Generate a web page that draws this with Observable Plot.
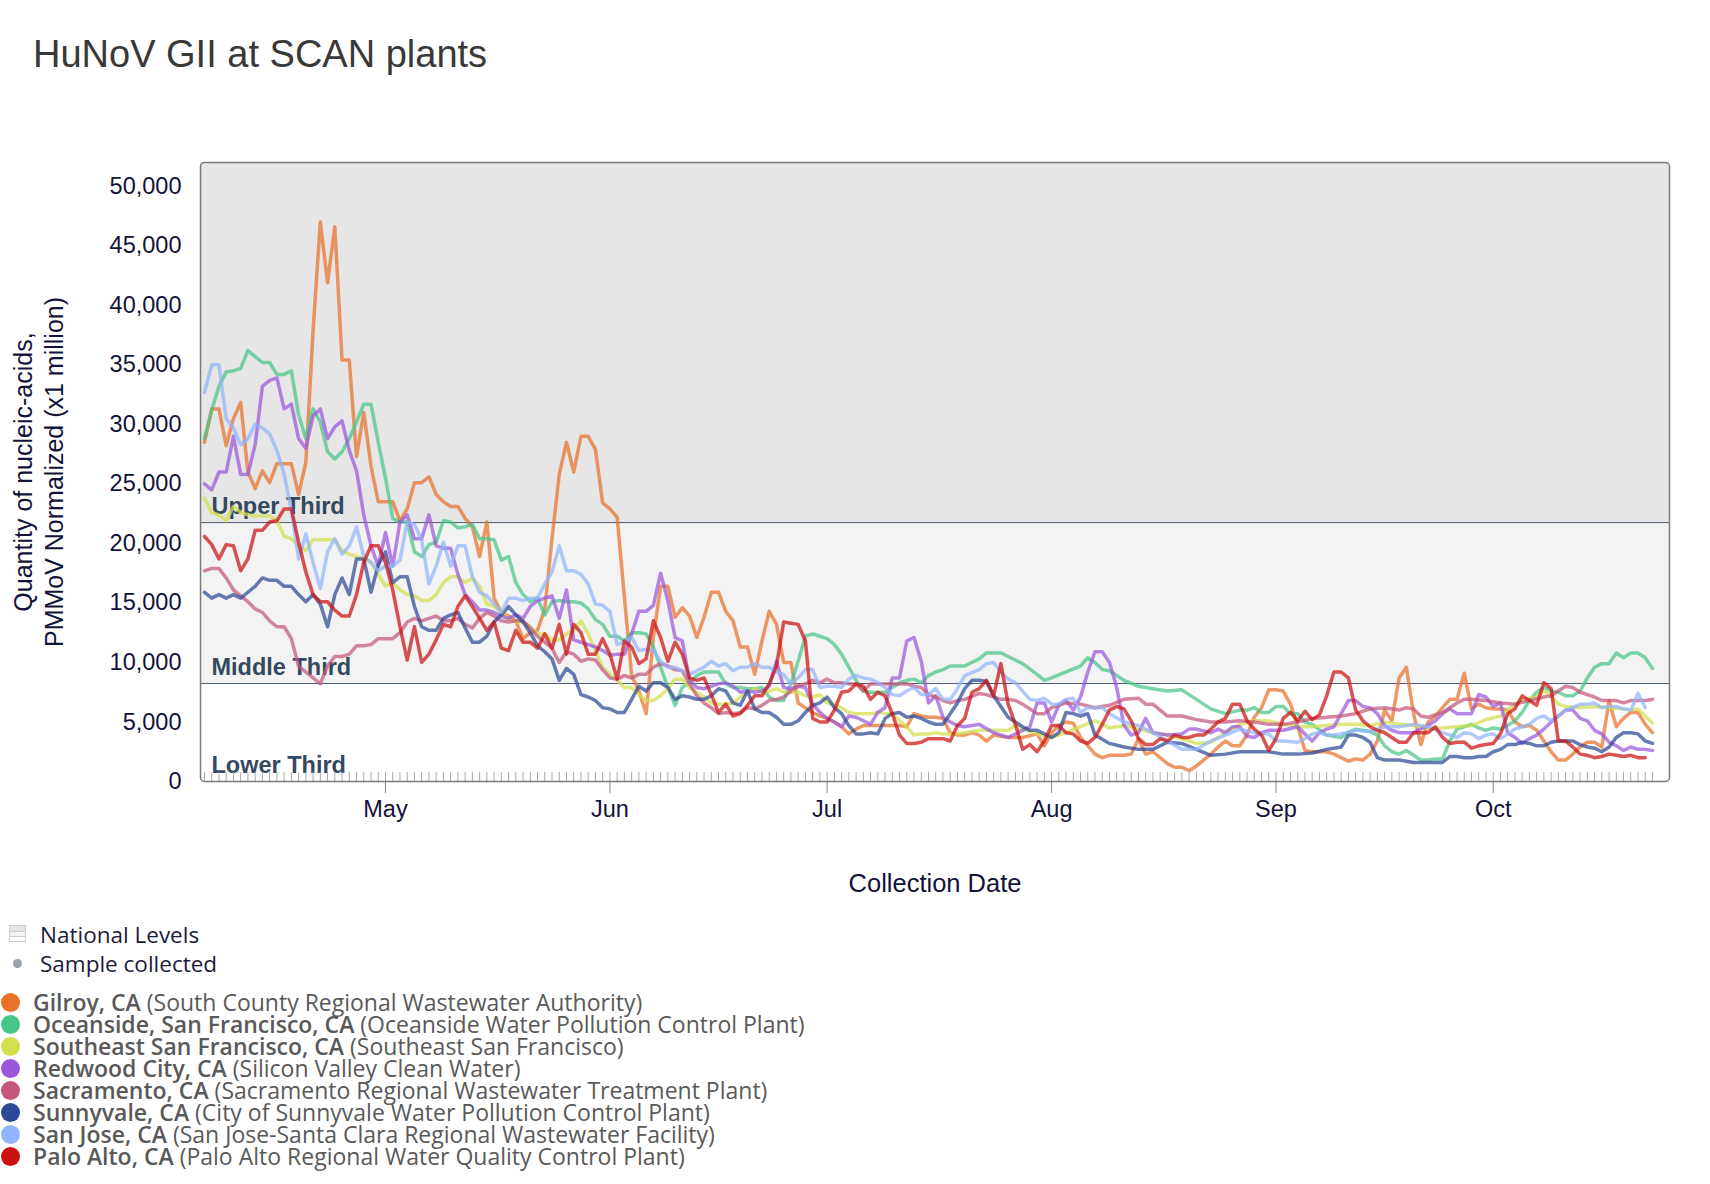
<!DOCTYPE html>
<html>
<head>
<meta charset="utf-8">
<script src="https://cdn.jsdelivr.net/npm/d3@7"></script>
<script src="https://cdn.jsdelivr.net/npm/@observablehq/plot@0.6"></script>
<style>
html,body{margin:0;padding:0;background:#fff;}
#root{position:relative;width:1710px;height:1184px;overflow:hidden;background:#fff;}
#title{position:absolute;left:33px;top:35px;font:38px/38px "Liberation Sans",Arial,sans-serif;color:#383838;white-space:nowrap;}
#chart{position:absolute;left:0;top:100px;}
.lg{position:absolute;left:0;font:22.5px/22px "Open Sans",sans-serif;white-space:nowrap;}
.row{left:33px;color:#595959;font-size:23px;}
.row b{font-weight:600;}
.dot{position:absolute;border-radius:50%;}
</style>
</head>
<body>
<div id="root">
  <div id="title"></div>
  <div id="chart"></div>
  <div id="legend"></div>
</div>
<script>
const _ = null;
const titleText = "HuNoV GII at SCAN plants";
const yTitle = "Quantity of nucleic-acids,\nPMMoV Normalized (x1 million)";
const xTitle = "Collection Date";
const startDay = "2024-04-06";
const yTicks = [0, 5000, 10000, 15000, 20000, 25000, 30000, 35000, 40000, 45000, 50000];
const yMax = 52000;
const bandLimits = [8230, 21750];
const bandLabels = ["Lower Third", "Middle Third", "Upper Third"];
const sites = ["Gilroy, CA", "Oceanside, San Francisco, CA", "Southeast San Francisco, CA", "Redwood City, CA", "Sacramento, CA", "Sunnyvale, CA", "San Jose, CA", "Palo Alto, CA"];
const plants = ["South County Regional Wastewater Authority", "Oceanside Water Pollution Control Plant", "Southeast San Francisco", "Silicon Valley Clean Water", "Sacramento Regional Wastewater Treatment Plant", "City of Sunnyvale Water Pollution Control Plant", "San Jose-Santa Clara Regional Wastewater Facility", "Palo Alto Regional Water Quality Control Plant"];
const siteColors = ["#e8722a", "#47c586", "#d3df4c", "#9a57dc", "#c4587c", "#2c4896", "#91b4fc", "#cc1010"];

// daily values from startDay (null = not read)
const gilroy = [28500,31300,31300,28200,30500,31850,26000,24600,26100,25100,
26700,26700,26700,24100,26800,37900,47000,41900,46600,35400,
35400,27300,31000,26500,23500,23500,23500,21900,22900,25100,
25100,25600,24100,23500,23100,23100,22100,21400,18900,21800,
15400,14200,13900,13500,12000,12500,12700,14500,20400,25800,
28500,26000,29000,29000,27900,23400,22900,22200,15500,8900,
7600,5700,12100,16400,16400,13800,14600,13900,12100,13800,
15900,15900,14300,13500,11300,11300,9000,11800,14300,13200,
10000,10000,6600,6200,5800,5500,5300,5000,4600,4000,
4400,4700,4700,4700,4700,4700,4700,4600,5700,5500,
5400,5400,5300,4100,3900,3900,4100,3900,3400,3900,
_,3700,_,3700,_,4000,3000,4100,4700,5000,
4900,3700,_,2300,2000,2200,_,2200,2300,3600,
2300,2500,_,1500,1200,1200,900,1300,_,2300,
2900,3400,3000,3000,3900,5400,6200,7700,7700,7600,
6500,4600,2600,2500,_,2500,2300,2000,1700,1900,
1800,2300,3400,6000,5100,8700,9600,5700,3100,5000,
5500,6200,6900,6900,9100,6100,6500,6200,6100,6100,
6000,5000,4600,4700,4300,3400,2500,1800,1800,2300,
2900,3300,3300,2900,6800,4600,5300,5800,5800,4800,
4100];
const oceanside = [28800,31200,33200,34400,34500,34700,36200,35700,35200,35200,
34200,34200,34500,30800,28800,31300,30200,27700,27100,27700,
28800,30200,31700,31700,28500,25500,22100,21800,21800,19300,
18900,19900,20100,21900,21800,21300,21400,21600,20400,20400,
20300,18600,18900,16700,15700,15100,15400,14000,15100,15200,
15100,15100,15000,14500,13600,13200,12200,12200,11800,12500,
12500,12400,11300,9600,7900,6400,7900,8300,8900,9200,
9200,9200,8200,7900,7900,7800,7800,7900,7100,6800,
6800,8200,10100,12200,12400,12200,12000,11500,10700,9600,
8500,7600,7500,7500,7500,7900,8300,8500,8600,8300,
8900,9200,9400,9700,9700,9700,_,10300,10800,10800,
10800,10500,_,9900,_,9000,8500,8700,_,9200,
_,9700,10400,10000,9400,9300,_,8500,_,8000,
_,7800,_,7600,_,7700,_,6900,_,6100,
_,5700,_,6000,6000,6200,5800,5800,6300,6300,
5700,5700,5000,4800,_,3900,_,3700,4100,4400,
_,4200,3900,3000,2500,2300,2600,2200,1800,1800,
1900,1900,3400,4400,4600,4800,4500,4300,4500,4400,
4700,5100,5800,6800,7500,7900,7600,7500,7200,7200,
7600,8700,9600,9900,9900,10800,10400,10800,10800,10400,
9500];
const southeastSF = [23800,22600,22400,21900,23100,22600,22400,22300,22300,22300,
21900,20600,20400,19800,19400,20300,20300,20300,20300,19400,
19100,18900,18700,18400,17400,16400,16700,16100,15700,15600,
15200,15200,15700,16700,17200,17200,16700,17100,16400,14900,
14700,14200,13700,13400,13400,13000,12400,12400,11900,11900,
12400,12700,13500,12400,11000,9600,9000,8500,7900,7900,
7300,6800,6800,7200,7800,8600,8600,7900,7500,7100,
6600,6500,6500,6600,7100,7500,7800,7500,7600,7800,
7500,7500,7500,7200,7100,7300,6600,6500,6200,5800,
5700,5700,5700,5800,5700,5700,5100,4600,3900,4000,
4000,4100,4000,4000,4000,4100,_,4300,_,4300,
_,4300,4700,4400,_,4000,_,3700,_,4100,
_,4600,_,5100,_,4500,_,4700,_,4400,
_,4100,_,3900,_,3600,_,3200,_,3300,
_,4100,_,4800,_,5100,_,5100,_,4800,
_,4600,_,4600,_,4700,_,4800,_,4800,
_,4700,_,5000,_,4800,_,4700,_,4500,
_,4500,_,4600,_,4700,_,5200,_,5500,
_,6500,6800,7000,7100,7600,7200,6500,6300,_,
6200,_,6300,_,6200,_,6100,6000,6100,5500,
4900];
const redwoodCity = [25000,24500,26000,26000,29000,25800,25800,28300,33200,33700,
33900,31300,31700,28800,28000,30700,31300,28800,29800,30300,
27800,26100,22400,19800,18100,20900,18100,21800,22400,20400,
20400,22400,19800,19600,19600,17400,15700,15100,14400,14400,
14200,13900,13700,14000,13700,14700,15200,15400,15600,13700,
16100,11900,11700,11500,11300,11000,10600,10700,10700,12400,
14300,14300,14800,17500,15200,12100,11800,8500,7900,7800,
8000,8200,8300,8000,7500,7600,7500,7600,8000,10100,
7900,7800,8000,7900,6500,5800,5300,5000,4600,5500,
5400,5100,4800,5800,6200,8700,8700,11800,12100,10100,
6600,7200,5400,5000,4700,4600,_,4800,_,4100,
_,3700,_,4300,4600,6600,6600,5000,6400,6800,
6000,7100,9200,10900,10900,10000,7900,4700,3900,4100,
5300,4100,_,3900,_,4000,4400,4400,_,4100,
4400,4100,4600,4600,3800,3700,4100,4300,_,4300,
_,4600,4000,3400,4100,4400,4600,5700,6800,6800,
6300,6200,5700,4700,4300,4100,4100,4100,4400,4700,
5100,5700,6100,5700,5700,5700,7300,7100,6300,6600,
4100,3700,3200,3600,3900,4400,5000,5500,6000,6000,
5300,5100,4300,4000,3300,3000,2600,2900,2700,2700,
2600];
const sacramento = [17700,17900,17900,17100,16100,15600,15100,14500,14200,13500,
13000,13000,12000,9700,9200,8700,8200,9700,10500,10500,
10700,11400,11400,11500,12000,12000,12000,12500,13400,13700,
13500,13700,13900,13500,13500,13700,13200,12900,13700,14200,
13900,13500,13400,13500,13500,12900,12200,11700,11200,10000,
10900,10700,10100,10300,10200,9400,8700,8600,8900,8700,
9000,9000,9600,9900,9700,9400,9300,8200,7200,6600,
6200,5700,5800,5700,5800,6200,6100,6400,6800,6900,
7100,7600,8000,8200,8500,8300,8600,8300,8300,8200,
8200,7600,8200,8200,8200,8200,8200,8200,8000,7900,
7300,7100,6800,6600,6800,6900,_,7400,7300,7100,
6900,6900,6800,6500,6100,5700,5700,6200,_,6600,
_,6500,_,6200,_,6400,_,6900,_,7000,
6500,6500,_,5500,_,5500,_,5200,_,5000,
_,5000,_,5100,_,5000,_,4800,_,4800,
_,5000,_,5300,_,5400,_,5500,_,5700,
_,6100,_,6200,_,6000,6200,6100,5500,5400,
_,5800,6200,6600,6900,6900,_,6800,_,6600,
_,6500,_,6800,_,7100,7200,7600,8000,7900,
7500,7300,7100,6800,6800,6800,6600,6800,6800,6800,
6900];
const sunnyvale = [15900,15400,15700,15400,15700,15400,15900,16400,17100,16900,
16900,16400,16400,15700,15100,15700,14900,13000,15700,17100,
15700,18700,18700,15900,18200,19300,16700,17200,17200,14700,
13000,12700,12700,13700,14000,14200,12900,11700,11700,12200,
13400,14000,14700,14000,13400,12500,11400,10900,10300,8500,
9500,9000,7300,7100,6800,6200,6100,5800,5800,6900,
8000,7600,8300,8300,7900,6900,7200,7100,6900,6900,
7200,7800,7600,6600,6400,7600,6100,5800,5800,5400,
4800,4800,5100,5800,6400,6600,7100,6200,5700,4700,
4000,4000,4100,4000,5300,5700,5800,5400,5500,5300,
5000,4800,4800,5700,6600,7800,8500,8500,8400,7200,
6300,5400,5000,4600,4300,4300,4000,3700,4100,5800,
5700,5500,5700,3900,_,3200,_,2900,_,2700,
_,2700,_,3300,_,3200,_,2700,_,2200,
_,2300,_,2500,_,2500,_,2500,_,2300,
_,2300,_,2400,_,2700,_,2900,3900,3900,
3700,3300,2000,1800,1800,1800,_,1600,_,1600,
_,1600,2100,2100,2000,2000,2100,2100,2500,2700,
3100,3100,3300,3200,3000,3000,3300,3400,3400,3400,
3100,2900,2800,2500,2900,3700,4100,4100,4000,3400,
3200];
const sanJose = [32700,35000,35000,30500,29700,28300,28800,30000,29700,29200,
27800,25800,22800,18700,20800,18400,16200,19300,20400,19100,
19800,21400,18900,18400,17700,18100,18100,18600,21800,21600,
20300,16600,18100,20100,18100,19800,19800,17200,15900,15600,
14900,14200,15400,15400,15200,15400,15400,16600,17600,19800,
17700,17700,17400,16600,14900,14800,14300,11500,11700,12100,
11000,11100,11000,10100,9600,9600,9300,9000,9300,9600,
10100,9700,9900,9300,9600,9600,9900,9600,9600,9200,
9000,8200,8700,9400,9400,7900,8000,8000,7900,8600,
8900,8700,8600,8300,7900,7300,7200,7600,7900,7300,
7300,7800,6900,6900,7800,8900,_,9400,9900,10000,
9200,8600,8300,7600,6900,6800,7000,6500,6500,6900,
7000,5800,6200,6200,6200,5700,_,5000,_,4700,
_,4100,_,3400,_,2700,_,2700,_,3400,
_,3900,_,4400,_,4100,_,4000,3400,3400,
_,3300,3600,4000,4100,3900,3900,4000,_,4300,
_,4200,_,4600,_,4600,_,4800,_,4600,
_,4100,_,3700,4100,4000,3600,3900,4000,3600,
4000,4400,4600,4800,5300,5500,5100,5500,6000,6200,
6500,6500,6600,6200,6300,6300,6100,6000,7400,6200,
_];
const paloAlto = [20600,19900,18700,19900,19800,17700,18700,21100,21100,21800,
21900,22900,22900,20100,17600,15700,15100,15100,14400,13900,
13900,15700,18400,19800,19800,18400,16100,13000,10200,13000,
10000,10700,11900,13200,13000,14700,15600,14700,13700,12700,
13400,11200,11000,12700,11700,11700,11200,12400,11200,13200,
10700,13200,12500,10700,10700,12000,10700,8600,11800,11300,
9900,10300,13500,12100,10100,11700,10700,8700,8500,8700,
7300,5800,6500,5500,5700,6400,7200,7200,8200,9700,
13400,13300,13200,11800,5300,5000,5000,6000,7500,7600,
8200,8000,6900,7500,7200,5700,3900,3200,3200,3300,
3600,3600,3600,3400,4700,5300,7500,7800,8500,7200,
9900,6500,4800,2700,3100,2500,3400,4700,4700,4100,
4000,3400,3200,3700,4800,6000,6300,6100,5100,3600,
3100,3100,3600,3400,3900,3700,3700,3900,3900,4400,
5000,5300,6500,6500,5100,4400,3900,2600,3600,5300,
5800,5100,5900,5200,5600,7200,9200,9200,8700,6000,
5100,4600,4300,4100,3700,3300,3300,4100,4100,4100,
4600,3700,3200,3300,3300,2800,3000,3100,3200,4000,
5700,6100,7200,6800,6400,8300,7800,3400,3400,2900,
2300,2200,2000,2100,2300,2200,2100,2200,2000,2000,
_];
const seriesValues = [gilroy, oceanside, southeastSF, redwoodCity, sacramento, sunnyvale, sanJose, paloAlto];

document.getElementById("title").textContent = titleText;

const start = new Date(startDay + "T00:00:00Z");
const dates = d3.utcDay.range(start, d3.utcDay.offset(start, gilroy.length));
const DAY = 864e5;

const lineMarks = seriesValues.map((vals, i) => {
  const rows = vals.map((v, j) => ({date: dates[j], value: v})).filter(r => r.value != null);
  return Plot.line(rows, {x: "date", y: "value", stroke: siteColors[i], strokeWidth: 3.5, strokeOpacity: 0.72, strokeLinejoin: "round", strokeLinecap: "round"});
});

const bands = [
  {lo: 0, hi: bandLimits[0], fill: "#ffffff"},
  {lo: bandLimits[0], hi: bandLimits[1], fill: "#f3f3f3"},
  {lo: bandLimits[1], hi: yMax, fill: "#e6e6e6"}
];
const labelRows = [
  {y: 0, label: bandLabels[0]},
  {y: bandLimits[0], label: bandLabels[1]},
  {y: bandLimits[1], label: bandLabels[2]}
];

const chart = Plot.plot({
  width: 1710,
  height: 810,
  marginTop: 62,
  marginBottom: 129,
  marginLeft: 200,
  marginRight: 41,
  style: {fontFamily: '"Liberation Sans", Arial, sans-serif', fontSize: "23.5px", color: "#12123a", background: "transparent", overflow: "visible"},
  x: {type: "utc", domain: [new Date(+start - 0.55 * DAY), new Date(+start + 202.35 * DAY)]},
  y: {domain: [0, yMax]},
  marks: [
    ...bands.map(b => Plot.rect([b], {y1: "lo", y2: "hi", fill: b.fill})),
    Plot.ruleY(bandLimits, {stroke: "#4b5a72", strokeWidth: 1}),
    Plot.text(labelRows, {y: "y", text: "label", frameAnchor: "left", dx: 11, dy: -9, textAnchor: "start", lineAnchor: "bottom", fontWeight: "bold", fontSize: 23.5, fill: "#34495e"}),
    ...lineMarks,
    Plot.tickX(dates, {x: d => d, stroke: "#a9a9a9", strokeWidth: 1, insetTop: 610}),
    Plot.axisX({ticks: d3.utcMonth, tickSize: 12, tickPadding: 7, tickFormat: d3.utcFormat("%b"), stroke: "#888", label: null}),
    Plot.axisY({ticks: yTicks, tickSize: 0, tickPadding: 19, tickFormat: d3.format(","), label: null}),
    Plot.frame({stroke: "#7a7a7a", strokeWidth: 1.5, rx: 4}),
    Plot.text([yTitle], {text: d => d, frameAnchor: "left", rotate: -90, dx: -162.5, fontSize: 25, lineHeight: 1.24, textAnchor: "middle", lineAnchor: "middle"}),
    Plot.text([xTitle], {text: d => d, frameAnchor: "bottom", dy: 102, fontSize: 25.5, textAnchor: "middle", lineAnchor: "middle"})
  ]
});
document.getElementById("chart").appendChild(chart);

// legend
const legend = document.getElementById("legend");
function add(html, style, cls) {
  const el = document.createElement("div");
  el.className = cls;
  el.setAttribute("style", style);
  el.innerHTML = html;
  legend.appendChild(el);
  return el;
}
add("", "position:absolute;left:9px;top:925px;width:17px;height:17px;box-sizing:border-box;border:1px solid #c9ccd2;background:linear-gradient(#e6e6e6 0 5px,#c9ccd2 5px 6px,#f3f3f3 6px 10px,#c9ccd2 10px 11px,#ffffff 11px);", "");
add("National Levels", "top:924px;left:40px;color:#1b1b3a;", "lg");
add("", "left:12.5px;top:958.5px;width:9px;height:9px;background:#9aa0ae;", "dot");
add("Sample collected", "top:953px;left:40px;color:#1b1b3a;", "lg");
sites.forEach((s, i) => {
  add("", `left:0.5px;top:${993 + 22 * i}px;width:19px;height:19px;background:${siteColors[i]};`, "dot");
  const row = add("", `top:${991 + 22 * i}px;`, "lg row");
  const b = document.createElement("b");
  b.textContent = s;
  row.appendChild(b);
  row.appendChild(document.createTextNode(" (" + plants[i] + ")"));
});
</script>
</body>
</html>
